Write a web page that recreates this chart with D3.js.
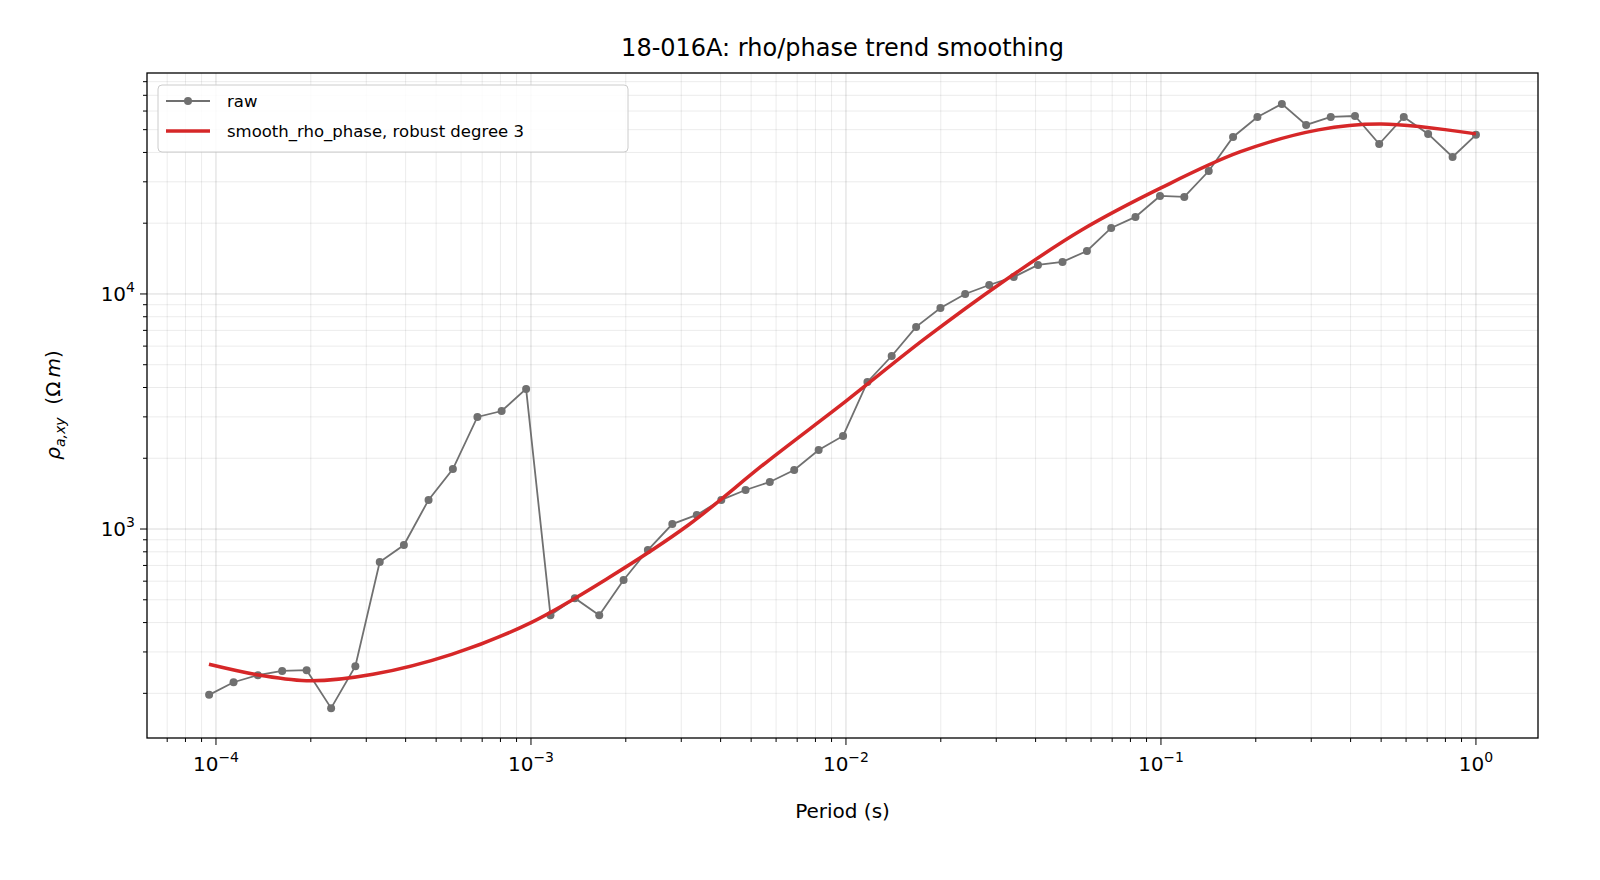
<!DOCTYPE html>
<html><head><meta charset="utf-8">
<script src="https://cdn.jsdelivr.net/npm/d3@7"></script>
<style>body{margin:0;background:#fff;font-family:"DejaVu Sans",sans-serif}</style>
</head><body><svg id="c" width="1600" height="880"></svg>
<script>
const periods=[9.51e-5,1.137e-4,1.358e-4,1.622e-4,1.94e-4,2.32e-4,2.77e-4,3.31e-4,3.95e-4,4.73e-4,5.65e-4,6.76e-4,8.07e-4,9.65e-4,1.153e-3,1.378e-3,1.647e-3,1.968e-3,2.35e-3,2.81e-3,3.36e-3,4.02e-3,4.80e-3,5.73e-3,6.85e-3,8.19e-3,9.79e-3,1.170e-2,1.397e-2,1.670e-2,1.995e-2,2.39e-2,2.85e-2,3.41e-2,4.07e-2,4.87e-2,5.82e-2,6.95e-2,8.30e-2,9.93e-2,0.1186,0.1418,0.1694,0.2024,0.242,0.289,0.346,0.413,0.493,0.590,0.705,0.843,1.0];
const rhoRaw=[197,223,239,249,251,173,261,724,855,1330,1800,2997,3177,3945,430,508,430,607,814,1050,1148,1330,1466,1585,1782,2168,2488,4226,5445,7244,8718,10000,10920,11810,13290,13690,15240,19100,21270,26120,25880,33340,46560,56620,64360,52360,56620,57150,43450,56620,47970,38280,47530];
const smoothPeriods=[9.5e-5,1.4e-4,2e-4,3.15e-4,5.6e-4,1e-3,1.78e-3,3.16e-3,5.6e-3,1e-2,1.78e-2,3.16e-2,5.6e-2,0.1,0.178,0.316,0.5,1.0];
const rhoSmooth=[266,238,226,241,293,400,625,1040,1928,3500,6450,11300,18700,28250,40180,49900,52860,47970];
const xTicks=[1e-4,1e-3,1e-2,1e-1,1];
const yTicks=[1e3,1e4];

const svg=d3.select("#c");
const L=147,R=1538,T=73,B=738;
const x=d3.scaleLog().domain([Math.pow(10,-4.219),Math.pow(10,0.197)]).range([L,R]);
const y=d3.scaleLog().domain([Math.pow(10,2.111),Math.pow(10,4.940)]).range([B,T]);
const g=svg.append("g");
const xMinor=[],yMinor=[];
for(let e=-5;e<=0;e++)for(let k=1;k<10;k++){const v=k*Math.pow(10,e);if(v>=x.domain()[0]&&v<=x.domain()[1])xMinor.push(v);}
for(let e=2;e<=4;e++)for(let k=1;k<10;k++){const v=k*Math.pow(10,e);if(v>=y.domain()[0]&&v<=y.domain()[1])yMinor.push(v);}
g.selectAll(".gx").data(xMinor).enter().append("line").attr("x1",d=>x(d)).attr("x2",d=>x(d)).attr("y1",T).attr("y2",B).attr("stroke","#000").attr("stroke-opacity",d=>xTicks.includes(d)?0.15:0.08);
g.selectAll(".gy").data(yMinor).enter().append("line").attr("y1",d=>y(d)).attr("y2",d=>y(d)).attr("x1",L).attr("x2",R).attr("stroke","#000").attr("stroke-opacity",d=>yTicks.includes(d)?0.15:0.08);
g.selectAll(".tx").data(xMinor).enter().append("line").attr("x1",d=>x(d)).attr("x2",d=>x(d)).attr("y1",B).attr("y2",d=>B+(xTicks.includes(d)?7:4)).attr("stroke","#000");
g.selectAll(".ty").data(yMinor).enter().append("line").attr("y1",d=>y(d)).attr("y2",d=>y(d)).attr("x1",L).attr("x2",d=>L-(yTicks.includes(d)?7:4)).attr("stroke","#000");
xTicks.forEach(v=>{const e=Math.round(Math.log10(v));const t=g.append("text").attr("x",x(v)).attr("y",B+33).attr("text-anchor","middle").attr("font-size",20);
 t.append("tspan").text("10");t.append("tspan").attr("dy",-9).attr("font-size",14).text(e===0?"0":"\u2212"+(-e));});
yTicks.forEach(v=>{const e=Math.round(Math.log10(v));const t=g.append("text").attr("x",L-12).attr("y",y(v)+7).attr("text-anchor","end").attr("font-size",20);
 t.append("tspan").text("10");t.append("tspan").attr("dy",-9).attr("font-size",14).text(e);});
const line=d3.line().x(d=>x(d[0])).y(d=>y(d[1]));
const raw=periods.map((p,i)=>[p,rhoRaw[i]]);
g.append("path").attr("d",line(raw)).attr("fill","none").attr("stroke","#707070").attr("stroke-width",1.8);
g.selectAll(".pt").data(raw).enter().append("circle").attr("cx",d=>x(d[0])).attr("cy",d=>y(d[1])).attr("r",4).attr("fill","#707070");
const sm=smoothPeriods.map((p,i)=>[p,rhoSmooth[i]]);
const sline=d3.line().x(d=>x(d[0])).y(d=>y(d[1])).curve(d3.curveCatmullRom);
g.append("path").attr("d",sline(sm)).attr("fill","none").attr("stroke","#d62728").attr("stroke-width",3.5);
g.append("rect").attr("x",L).attr("y",T).attr("width",R-L).attr("height",B-T).attr("fill","none").attr("stroke","#000").attr("stroke-width",1.3);
svg.append("text").attr("x",(L+R)/2).attr("y",56).attr("text-anchor","middle").attr("font-size",24).text("18-016A: rho/phase trend smoothing");
svg.append("text").attr("x",(L+R)/2).attr("y",818).attr("text-anchor","middle").attr("font-size",20).text("Period (s)");
const yl=svg.append("text").attr("transform","translate(60,405) rotate(-90)").attr("text-anchor","middle").attr("font-size",20);
yl.append("tspan").attr("font-style","italic").text("ρ");
yl.append("tspan").attr("font-style","italic").attr("font-size",14).attr("dy",5).text("a,xy");
yl.append("tspan").attr("dy",-5).text("\u00a0\u00a0(Ω\u2009");
yl.append("tspan").attr("font-style","italic").text("m");
yl.append("tspan").text(")");
const lg=svg.append("g");
lg.append("rect").attr("x",158).attr("y",85).attr("width",470).attr("height",67).attr("rx",4).attr("fill","#fff").attr("fill-opacity",0.85).attr("stroke","#ccc");
lg.append("line").attr("x1",166).attr("x2",210).attr("y1",101).attr("y2",101).attr("stroke","#707070").attr("stroke-width",1.8);
lg.append("circle").attr("cx",188).attr("cy",101).attr("r",4).attr("fill","#707070");
lg.append("text").attr("x",227).attr("y",107).attr("font-size",16.5).text("raw");
lg.append("line").attr("x1",166).attr("x2",210).attr("y1",131).attr("y2",131).attr("stroke","#d62728").attr("stroke-width",3.5);
lg.append("text").attr("x",227).attr("y",137).attr("font-size",16.5).text("smooth_rho_phase, robust degree 3");
</script></body></html>
